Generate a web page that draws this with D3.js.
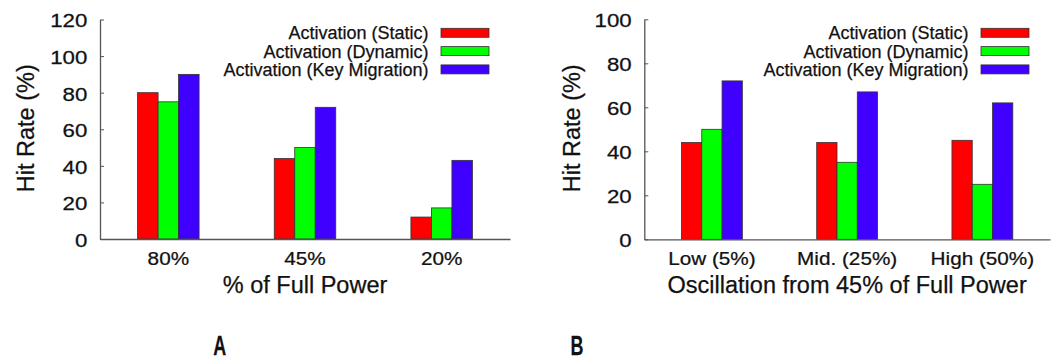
<!DOCTYPE html>
<html>
<head>
<meta charset="utf-8">
<script src="https://cdn.jsdelivr.net/npm/d3@7"></script>
<style>
  html, body { margin: 0; padding: 0; background: #fff; }
  svg { display: block; }
  text { font-family: "Liberation Sans", Arial, Helvetica, sans-serif; fill: #111; stroke: #111; stroke-width: 0.25px; }
</style>
</head>
<body>
<svg id="fig" width="1058" height="360"></svg>
<script>
// Series shared by both panels
const seriesNames = ["Activation (Static)", "Activation (Dynamic)", "Activation (Key Migration)"];
const seriesColors = ["#ff0000", "#00ff00", "#4000ff"];

// Panel A: hit rate vs. supplied power level
const powerLevels = ["80%", "45%", "20%"];
const powerStatic = [80, 44, 12];
const powerDynamic = [75, 50, 17];
const powerKeyMigration = [90, 72, 43];
const powerTicks = [0, 20, 40, 60, 80, 100, 120];

// Panel B: hit rate vs. oscillation around 45% power
const oscLevels = ["Low (5%)", "Mid. (25%)", "High (50%)"];
const oscStatic = [44, 44, 45];
const oscDynamic = [50, 35, 25];
const oscKeyMigration = [72, 67, 62];
const oscTicks = [0, 20, 40, 60, 80, 100];

const svg = d3.select("#fig");

function drawPanel(opt) {
  const g = svg.append("g");
  const x = d3.scaleBand().domain(opt.categories).range([opt.left, opt.right]);
  const y = d3.scaleLinear().domain([0, d3.max(opt.ticks)]).range([opt.bottom, opt.top]);
  const sub = d3.scaleBand().domain(seriesNames).range([0, x.bandwidth() * 0.45]);
  const groupOffset = x.bandwidth() * 0.275;

  // bars
  opt.categories.forEach((cat, i) => {
    seriesNames.forEach((s, k) => {
      const v = opt.values[k][i];
      g.append("rect")
        .attr("x", x(cat) + groupOffset + sub(s))
        .attr("y", y(v))
        .attr("width", sub.bandwidth())
        .attr("height", y(0) - y(v))
        .attr("fill", seriesColors[k])
        .attr("stroke", "#333")
        .attr("stroke-width", 0.8);
    });
  });

  // left axis, ticks pointing inward
  const yScaleX = 1.27;
  const ya = g.append("g")
    .attr("transform", `translate(${opt.left},0)`)
    .call(d3.axisLeft(y).tickValues(opt.ticks).tickSize(-4).tickSizeOuter(0).tickPadding(10));
  ya.selectAll("text")
    .attr("font-size", 17.5)
    .attr("font-family", "Liberation Sans, Arial, sans-serif")
    .attr("fill", "#111")
    .attr("dy", "0.42em")
    .attr("transform", `scale(${yScaleX},1)`);
  ya.selectAll("line").attr("stroke", "#555").attr("stroke-width", 1);
  ya.select(".domain").attr("stroke", "#555").attr("stroke-width", 1.3);

  // bottom axis
  const xa = g.append("g")
    .attr("transform", `translate(0,${opt.bottom})`)
    .call(d3.axisBottom(x).tickSize(0).tickSizeOuter(0).tickPadding(13));
  xa.selectAll("text")
    .attr("font-size", 18.5)
    .attr("font-family", "Liberation Sans, Arial, sans-serif")
    .attr("fill", "#111")
    .attr("transform", "scale(1.12,1)");
  xa.select(".domain").attr("stroke", "#555").attr("stroke-width", 1.3);

  // axis titles
  g.append("text")
    .attr("transform", `translate(${opt.yTitleX},${(opt.top + opt.bottom) / 2 - 1}) rotate(-90)`)
    .attr("text-anchor", "middle")
    .attr("font-size", 23.5)
    .text("Hit Rate (%)");
  g.append("text")
    .attr("x", (opt.left + opt.right) / 2)
    .attr("y", 293)
    .attr("text-anchor", "middle")
    .attr("font-size", 23.5)
    .text(opt.xTitle);

  // legend
  const rowBase = [39.3, 57.6, 75.9];
  seriesNames.forEach((s, k) => {
    g.append("text")
      .attr("x", opt.right - 81.5)
      .attr("y", rowBase[k])
      .attr("text-anchor", "end")
      .attr("font-size", 18)
      .text(s);
    g.append("rect")
      .attr("x", opt.right - 69)
      .attr("y", rowBase[k] - 11)
      .attr("width", 48)
      .attr("height", 9)
      .attr("fill", seriesColors[k])
      .attr("stroke", "#333")
      .attr("stroke-width", 0.8);
  });

  // panel letter
  svg.append("text")
    .attr("transform", `translate(${opt.letterX},355) scale(0.64,1)`)
    .attr("text-anchor", "middle")
    .attr("font-size", 28)
    .attr("font-weight", "bold")
    .text(opt.letter);
}

drawPanel({
  categories: powerLevels,
  values: [powerStatic, powerDynamic, powerKeyMigration],
  ticks: powerTicks,
  left: 100, right: 510, top: 19.5, bottom: 239,
  yTitleX: 34,
  xTitle: "% of Full Power",
  letter: "A", letterX: 219.7
});

drawPanel({
  categories: oscLevels,
  values: [oscStatic, oscDynamic, oscKeyMigration],
  ticks: oscTicks,
  left: 644.3, right: 1050, top: 19.3, bottom: 239.3,
  yTitleX: 580,
  xTitle: "Oscillation from 45% of Full Power",
  letter: "B", letterX: 577
});
</script>
</body>
</html>
